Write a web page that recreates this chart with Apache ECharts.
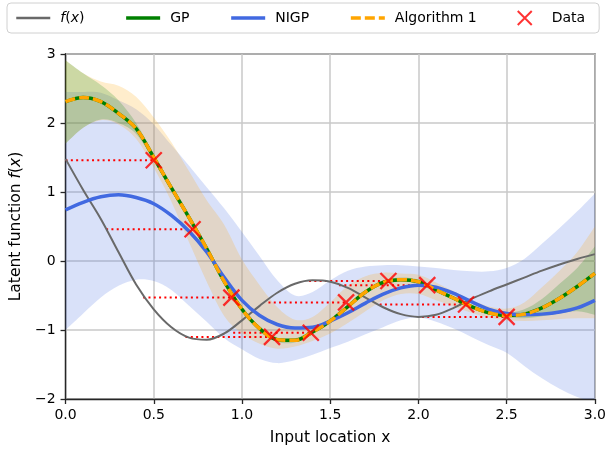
<!DOCTYPE html>
<html>
<head>
<meta charset="utf-8">
<script src="https://cdn.jsdelivr.net/npm/echarts@6/dist/echarts.min.js"></script>
<style>html,body{margin:0;padding:0;background:#fff}#c{width:609px;height:451px}</style>
</head>
<body>
<div id="c"></div>
<script>
// sample locations of the curves
const xs = [0.0,0.1,0.2,0.3,0.4,0.5,0.6,0.7,0.8,0.9,1.0,1.1,1.2,1.3,1.4,1.5,1.6,1.7,1.8,1.9,2.0,2.1,2.2,2.3,2.4,2.5,2.6,2.7,2.8,2.9,3.0];
// true latent function f(x)
const fTrue = [1.48,1.03,0.61,0.13,-0.34,-0.70,-0.96,-1.11,-1.14,-1.05,-0.86,-0.65,-0.46,-0.33,-0.28,-0.30,-0.39,-0.53,-0.67,-0.77,-0.81,-0.78,-0.68,-0.55,-0.44,-0.34,-0.24,-0.14,-0.05,0.03,0.10];
// GP mean and band
const gpMean = [2.31,2.37,2.31,2.14,1.92,1.50,1.06,0.63,0.18,-0.30,-0.70,-0.98,-1.14,-1.15,-1.03,-0.87,-0.66,-0.45,-0.31,-0.27,-0.30,-0.42,-0.54,-0.66,-0.75,-0.79,-0.77,-0.68,-0.54,-0.37,-0.18];
const gpUpper = [2.91,2.72,2.55,2.33,2.00,1.55,1.10,0.67,0.22,-0.26,-0.66,-0.95,-1.11,-1.12,-1.00,-0.84,-0.63,-0.42,-0.28,-0.24,-0.27,-0.39,-0.51,-0.63,-0.72,-0.75,-0.70,-0.55,-0.33,-0.10,0.21];
const gpLower = [1.70,1.93,2.05,2.00,1.84,1.45,1.02,0.59,0.14,-0.34,-0.74,-1.01,-1.17,-1.18,-1.06,-0.90,-0.69,-0.48,-0.34,-0.30,-0.33,-0.45,-0.57,-0.69,-0.78,-0.82,-0.83,-0.80,-0.76,-0.73,-0.78];
// NIGP mean and band
const nigpMean = [0.74,0.85,0.93,0.96,0.92,0.83,0.66,0.43,0.13,-0.24,-0.57,-0.79,-0.92,-0.97,-0.96,-0.87,-0.75,-0.61,-0.48,-0.39,-0.35,-0.38,-0.47,-0.59,-0.70,-0.76,-0.78,-0.77,-0.74,-0.68,-0.57];
const nigpUpper = [2.45,2.45,2.44,2.33,2.20,1.98,1.68,1.38,1.07,0.76,0.42,0.07,-0.28,-0.50,-0.45,-0.28,-0.14,-0.08,-0.06,-0.06,-0.08,-0.10,-0.13,-0.15,-0.15,-0.10,0.03,0.25,0.48,0.72,0.98];
const nigpLower = [-1.00,-0.76,-0.53,-0.36,-0.27,-0.29,-0.42,-0.65,-0.88,-1.12,-1.28,-1.42,-1.48,-1.44,-1.36,-1.26,-1.17,-1.06,-0.96,-0.86,-0.82,-0.88,-0.98,-1.10,-1.22,-1.33,-1.52,-1.70,-1.85,-1.97,-2.05];
// Algorithm 1 mean and band
const algMean = [2.31,2.37,2.31,2.14,1.92,1.50,1.06,0.63,0.18,-0.30,-0.70,-0.98,-1.14,-1.15,-1.03,-0.87,-0.66,-0.45,-0.31,-0.27,-0.30,-0.42,-0.54,-0.66,-0.75,-0.79,-0.77,-0.68,-0.54,-0.37,-0.18];
const algUpper = [2.91,2.72,2.60,2.54,2.38,2.08,1.72,1.30,0.88,0.52,0.02,-0.35,-0.67,-0.85,-0.81,-0.60,-0.36,-0.22,-0.17,-0.18,-0.20,-0.31,-0.44,-0.56,-0.66,-0.69,-0.60,-0.38,-0.14,0.13,0.50];
const algLower = [1.70,1.93,2.04,1.98,1.77,1.35,0.86,0.27,-0.30,-0.80,-1.05,-1.20,-1.27,-1.24,-1.16,-1.05,-0.90,-0.73,-0.57,-0.48,-0.48,-0.57,-0.66,-0.75,-0.82,-0.86,-0.87,-0.86,-0.84,-0.83,-0.83];
// observed data: noisy input, output, and true input location
const dataX = [0.50,0.72,0.94,1.17,1.39,1.59,1.83,2.05,2.27,2.50];
const dataY = [1.46,0.46,-0.53,-1.10,-1.04,-0.60,-0.29,-0.35,-0.63,-0.81];
const trueX = [0.00,0.23,0.44,0.68,0.95,1.15,1.38,1.55,1.78,2.02];
// axis ticks
const xTicks = [0.0,0.5,1.0,1.5,2.0,2.5,3.0];
const yTicks = [-2,-1,0,1,2,3];

const FONT = 'DejaVu Sans';
const pairs = arr => xs.map((x,i)=>[x,arr[i]]);

// Catmull-Rom spline through pixel points -> SVG path commands
function splineCmds(pts, startCmd){
  let d = startCmd + pts[0][0] + ' ' + pts[0][1];
  for (let i=0;i<pts.length-1;i++){
    const p0 = pts[Math.max(i-1,0)], p1 = pts[i], p2 = pts[i+1], p3 = pts[Math.min(i+2,pts.length-1)];
    const c1 = [p1[0]+(p2[0]-p0[0])/6, p1[1]+(p2[1]-p0[1])/6];
    const c2 = [p2[0]-(p3[0]-p1[0])/6, p2[1]-(p3[1]-p1[1])/6];
    d += ' C' + c1[0]+' '+c1[1]+' '+c2[0]+' '+c2[1]+' '+p2[0]+' '+p2[1];
  }
  return d;
}
function band(id, lo, up, color){
  return {
    type:'custom', name:id, data:[[0,0]], clip:true, silent:true, z:1,
    renderItem:function(params, api){
      const top = xs.map((x,i)=>api.coord([x, up[i]]));
      const bot = xs.map((x,i)=>api.coord([x, lo[i]])).reverse();
      const d = splineCmds(top,'M') + ' ' + splineCmds(bot,'L') + ' Z';
      return {type:'path', shape:{pathData:d}, style:{fill:color, stroke:null}, silent:true};
    }
  };
}
const series = [];
series.push(band('nigpBand', nigpLower, nigpUpper, 'rgba(65,105,225,0.2)'));
series.push(band('algBand', algLower, algUpper, 'rgba(255,165,0,0.2)'));
series.push(band('gpBand', gpLower, gpUpper, 'rgba(0,128,0,0.2)'));
dataX.forEach((xn,i)=>{
  series.push({type:'line', name:'err'+i, data:[[trueX[i],dataY[i]],[xn,dataY[i]]], symbol:'none', silent:true, z:2,
    lineStyle:{color:'#ff0000', width:2, type:[2,3.3], cap:'butt'}});
});
series.push({type:'line', name:'f(x)', data:pairs(fTrue), symbol:'none', smooth:0.35, z:3,
  lineStyle:{color:'#696969', width:2}, itemStyle:{color:'#696969'}});
series.push({type:'line', name:'GP', data:pairs(gpMean), symbol:'none', smooth:0.35, z:3,
  lineStyle:{color:'#008000', width:3.5}, itemStyle:{color:'#008000'}});
series.push({type:'line', name:'NIGP', data:pairs(nigpMean), symbol:'none', smooth:0.35, z:3,
  lineStyle:{color:'#4169e1', width:3.5}, itemStyle:{color:'#4169e1'}});
series.push({type:'line', name:'Algorithm 1', data:pairs(algMean), symbol:'none', smooth:0.35, z:3,
  lineStyle:{color:'#ffa500', width:3.5, type:[10,4]}, itemStyle:{color:'#ffa500'}});
series.push({type:'scatter', name:'Data', data:dataX.map((x,i)=>[x,dataY[i]]), z:4,
  symbol:'path://M0,0L10,10M10,0L0,10', symbolSize:16,
  itemStyle:{color:'#ff0000', borderColor:'#ff0000', borderWidth:2.3}});

const noSym = {opacity:0};
const chart = echarts.init(document.getElementById('c'), null, {renderer:'canvas'});
chart.setOption({
  animation:false,
  textStyle:{fontFamily:FONT},
  grid:{left:64.5, right:12, top:54, bottom:52, show:true, borderColor:'#262626', borderWidth:1.3, backgroundColor:'transparent'},
  legend:{
    data:[
      {name:'f(x)', itemStyle:noSym, lineStyle:{width:2.5}},
      {name:'GP', itemStyle:noSym, lineStyle:{width:3.5}},
      {name:'NIGP', itemStyle:noSym, lineStyle:{width:3.5}},
      {name:'Algorithm 1', itemStyle:noSym, lineStyle:{width:3.5}},
      {name:'Data'}
    ],
    left:7, top:3, padding:[7,14,7,8], itemGap:40, itemWidth:34, itemHeight:14,
    borderColor:'#d0d0d0', borderWidth:1, borderRadius:4, backgroundColor:'#fff',
    textStyle:{fontFamily:FONT, fontSize:14, color:'#000', padding:[0,0,0,5], rich:{it:{fontStyle:'italic', fontFamily:FONT, fontSize:14}}},
    formatter: n => n==='f(x)' ? '{it|f}({it|x})' : n
  },
  xAxis:{type:'value', min:0, max:3, interval:0.5,
    name:'Input location x', nameLocation:'middle', nameGap:31,
    nameTextStyle:{fontFamily:FONT, fontSize:15.5, color:'#000'},
    axisLine:{show:true, onZero:false, lineStyle:{color:'#262626', width:1.3}},
    axisTick:{show:true, length:5, lineStyle:{color:'#262626', width:1.3}},
    axisLabel:{fontFamily:FONT, fontSize:14, color:'#000', margin:9, formatter:v=>v.toFixed(1)},
    splitLine:{show:true, lineStyle:{color:'#c8c8c8', width:1.5}}
  },
  yAxis:{type:'value', min:-2, max:3, interval:1,
    name:'Latent function {it|f}({it|x})', nameLocation:'middle', nameGap:41,
    nameTextStyle:{fontFamily:FONT, fontSize:15.5, color:'#000', rich:{it:{fontStyle:'italic', fontFamily:FONT, fontSize:15.5}}},
    axisLine:{show:true, onZero:false, lineStyle:{color:'#262626', width:1.3}},
    axisTick:{show:true, length:5, lineStyle:{color:'#262626', width:1.3}},
    axisLabel:{fontFamily:FONT, fontSize:14, color:'#000', margin:10, formatter:v=>String(v).replace('-','\u2212')},
    splitLine:{show:true, lineStyle:{color:'#c8c8c8', width:1.5}}
  },
  series:series
});
</script>
</body>
</html>
